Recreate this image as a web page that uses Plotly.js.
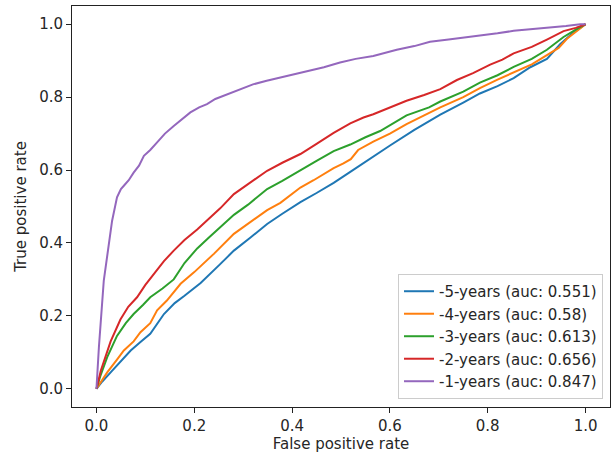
<!DOCTYPE html>
<html>
<head>
<meta charset="utf-8">
<script src="https://cdn.plot.ly/plotly-3.0.1.min.js"></script>
<style>html,body{margin:0;padding:0;background:#fff;}#chart{width:612px;height:458px;}</style>
</head>
<body>
<div id="chart"></div>
<script>
const seriesNames = ["-5-years (auc: 0.551)", "-4-years (auc: 0.58)", "-3-years (auc: 0.613)", "-2-years (auc: 0.656)", "-1-years (auc: 0.847)"];
const seriesColors = ["#1f77b4", "#ff7f0e", "#2ca02c", "#d62728", "#9467bd"];

const fpr5 = [0, 0.012, 0.029, 0.05, 0.07, 0.09, 0.11, 0.138, 0.16, 0.18, 0.213, 0.253, 0.281, 0.315, 0.349, 0.38, 0.417, 0.45, 0.485, 0.519, 0.56, 0.601, 0.65, 0.703, 0.75, 0.784, 0.82, 0.853, 0.887, 0.921, 0.948, 0.975, 1.0];
const tpr5 = [0, 0.02, 0.045, 0.075, 0.105, 0.128, 0.151, 0.205, 0.235, 0.255, 0.29, 0.342, 0.379, 0.415, 0.452, 0.48, 0.512, 0.537, 0.565, 0.595, 0.632, 0.668, 0.71, 0.752, 0.785, 0.81, 0.83, 0.852, 0.882, 0.905, 0.945, 0.977, 1.0];

const fpr4 = [0, 0.01, 0.022, 0.042, 0.056, 0.076, 0.09, 0.11, 0.124, 0.144, 0.172, 0.2, 0.24, 0.281, 0.308, 0.349, 0.376, 0.417, 0.444, 0.485, 0.505, 0.52, 0.535, 0.566, 0.6, 0.634, 0.67, 0.703, 0.75, 0.784, 0.82, 0.853, 0.89, 0.921, 0.945, 0.962, 0.982, 1.0];
const tpr4 = [0, 0.02, 0.045, 0.08, 0.105, 0.13, 0.155, 0.18, 0.215, 0.242, 0.288, 0.32, 0.37, 0.425, 0.45, 0.49, 0.51, 0.552, 0.572, 0.605, 0.618, 0.63, 0.655, 0.678, 0.7, 0.726, 0.75, 0.772, 0.8, 0.825, 0.848, 0.868, 0.89, 0.915, 0.935, 0.96, 0.982, 1.0];

const fpr3 = [0, 0.008, 0.022, 0.042, 0.06, 0.076, 0.095, 0.11, 0.135, 0.158, 0.18, 0.206, 0.23, 0.253, 0.281, 0.31, 0.349, 0.38, 0.417, 0.45, 0.485, 0.519, 0.55, 0.58, 0.634, 0.68, 0.703, 0.75, 0.784, 0.82, 0.853, 0.89, 0.921, 0.955, 0.98, 1.0];
const tpr3 = [0, 0.035, 0.087, 0.145, 0.18, 0.205, 0.23, 0.251, 0.275, 0.3, 0.345, 0.385, 0.415, 0.443, 0.477, 0.505, 0.548, 0.57, 0.598, 0.625, 0.652, 0.67, 0.69, 0.707, 0.75, 0.772, 0.788, 0.815, 0.84, 0.86, 0.883, 0.905, 0.93, 0.965, 0.985, 1.0];

const fpr2 = [0, 0.009, 0.029, 0.049, 0.065, 0.083, 0.1, 0.117, 0.138, 0.158, 0.18, 0.206, 0.23, 0.253, 0.281, 0.31, 0.349, 0.38, 0.417, 0.45, 0.485, 0.519, 0.546, 0.566, 0.6, 0.634, 0.67, 0.703, 0.737, 0.77, 0.805, 0.83, 0.853, 0.89, 0.921, 0.955, 0.98, 1.0];
const tpr2 = [0, 0.05, 0.13, 0.19, 0.225, 0.251, 0.285, 0.315, 0.35, 0.379, 0.408, 0.437, 0.467, 0.495, 0.534, 0.562, 0.598, 0.62, 0.644, 0.672, 0.702, 0.728, 0.744, 0.753, 0.772, 0.79, 0.806, 0.822, 0.847, 0.866, 0.889, 0.903, 0.92, 0.938, 0.958, 0.981, 0.99, 1.0];

const fpr1 = [0, 0.005, 0.015, 0.022, 0.032, 0.042, 0.05, 0.056, 0.066, 0.076, 0.087, 0.097, 0.11, 0.124, 0.14, 0.158, 0.175, 0.192, 0.21, 0.226, 0.243, 0.26, 0.277, 0.294, 0.32, 0.348, 0.39, 0.43, 0.465, 0.498, 0.53, 0.566, 0.614, 0.65, 0.682, 0.72, 0.75, 0.784, 0.82, 0.853, 0.89, 0.921, 0.96, 0.989, 1.0];
const tpr1 = [0, 0.114, 0.297, 0.36, 0.461, 0.525, 0.548, 0.557, 0.572, 0.593, 0.612, 0.639, 0.655, 0.676, 0.70, 0.721, 0.74, 0.758, 0.772, 0.781, 0.795, 0.804, 0.812, 0.822, 0.835, 0.845, 0.858, 0.872, 0.882, 0.895, 0.905, 0.913, 0.93, 0.94, 0.952, 0.958, 0.963, 0.968, 0.975, 0.982, 0.986, 0.991, 0.995, 1.0, 1.0];

const tickVals = [0, 0.2, 0.4, 0.6, 0.8, 1.0];
const tickText = ["0.0", "0.2", "0.4", "0.6", "0.8", "1.0"];

const xs = [fpr5, fpr4, fpr3, fpr2, fpr1];
const ys = [tpr5, tpr4, tpr3, tpr2, tpr1];

const traces = seriesNames.map((n, i) => ({
  x: xs[i], y: ys[i], name: n, type: "scatter", mode: "lines",
  line: {color: seriesColors[i], width: 2}
}));

const font = {family: "DejaVu Sans, sans-serif", size: 15, color: "#262626"};
const axisBase = {
  range: [-0.05, 1.05], showgrid: false, zeroline: false,
  showline: true, mirror: true, linecolor: "#222", linewidth: 1,
  ticks: "outside", ticklen: 5, tickwidth: 1, tickcolor: "#222",
  tickvals: tickVals, ticktext: tickText, tickfont: font
};

const layout = {
  width: 612, height: 458,
  margin: {l: 72, r: 2, t: 6, b: 51},
  paper_bgcolor: "#fff", plot_bgcolor: "#fff",
  font: font,
  showlegend: true,
  xaxis: Object.assign({}, axisBase, {title: {text: "False positive rate", font: font, standoff: 4}}),
  yaxis: Object.assign({}, axisBase, {title: {text: "True positive rate", font: font, standoff: 8}}),
  legend: {
    x: 0.987, y: 0.02, xanchor: "right", yanchor: "bottom",
    bgcolor: "rgba(255,255,255,0.8)", bordercolor: "#cccccc", borderwidth: 1,
    font: font, tracegroupgap: 0
  }
};

Plotly.newPlot("chart", traces, layout, {staticPlot: true, displayModeBar: false});
</script>
</body>
</html>
